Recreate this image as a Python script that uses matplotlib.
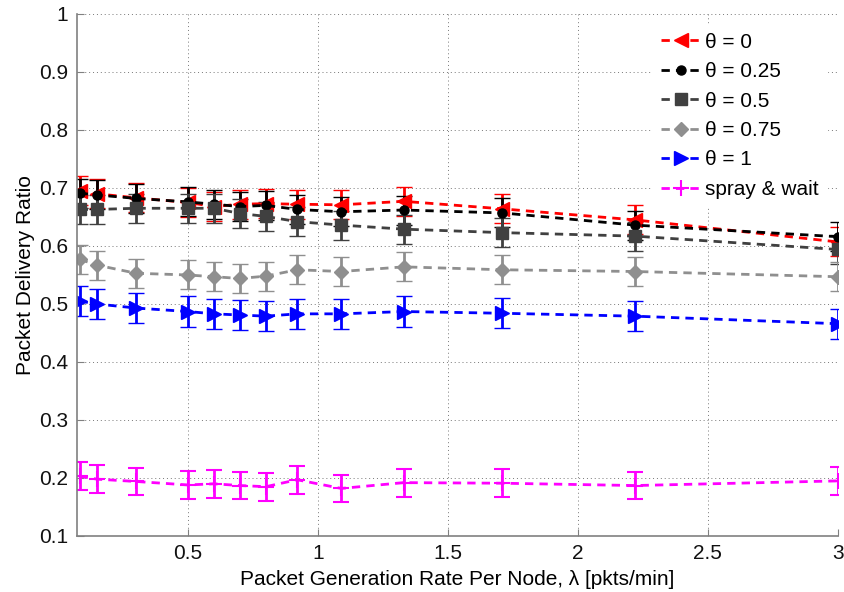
import matplotlib
matplotlib.use("Agg")
import matplotlib.pyplot as plt
from matplotlib.lines import Line2D

plt.rcParams['font.family'] = ['Liberation Sans', 'DejaVu Sans']

# Packet generation rate per node (pkts/min)
rate = [0.0833, 0.15, 0.30, 0.50, 0.60, 0.70, 0.80, 0.92, 1.09, 1.33, 1.71, 2.22, 3.00]

# Mean packet delivery ratio for each scheme
pdr_theta_0 = [0.695, 0.690, 0.683, 0.675, 0.668, 0.672, 0.673, 0.672, 0.671, 0.677, 0.664, 0.645, 0.607]
pdr_theta_025 = [0.691, 0.688, 0.682, 0.676, 0.672, 0.668, 0.670, 0.663, 0.659, 0.662, 0.657, 0.636, 0.616]
pdr_theta_05 = [0.663, 0.663, 0.665, 0.665, 0.665, 0.656, 0.651, 0.642, 0.636, 0.629, 0.623, 0.617, 0.594]
pdr_theta_075 = [0.577, 0.567, 0.553, 0.550, 0.547, 0.544, 0.548, 0.559, 0.556, 0.564, 0.559, 0.556, 0.547]
pdr_theta_1 = [0.505, 0.500, 0.493, 0.487, 0.483, 0.481, 0.479, 0.483, 0.483, 0.487, 0.484, 0.479, 0.466]
pdr_spray = [0.203, 0.198, 0.194, 0.188, 0.190, 0.187, 0.185, 0.197, 0.182, 0.192, 0.191, 0.187, 0.195]

# Half-width of the confidence intervals
err_theta_0 = [0.025] * 13
err_theta_025 = [0.025] * 13
err_theta_05 = [0.025] * 13
err_theta_075 = [0.025] * 13
err_theta_1 = [0.026] * 13
err_spray = [0.024] * 13

labels = ['θ = 0', 'θ = 0.25', 'θ = 0.5', 'θ = 0.75', 'θ = 1', 'spray & wait']

series = [
    (pdr_theta_0, err_theta_0, '#ff0000', '<', 9.5),
    (pdr_theta_025, err_theta_025, '#000000', 'o', 6.5),
    (pdr_theta_05, err_theta_05, '#404040', 's', 8),
    (pdr_theta_075, err_theta_075, '#8f8f8f', 'D', 7.5),
    (pdr_theta_1, err_theta_1, '#0000ff', '>', 10.5),
    (pdr_spray, err_spray, '#ff00ff', '+', 12),
]

dash = (0, (3, 2.2))

fig = plt.figure(figsize=(8.44, 5.92), dpi=100)
ax = fig.add_axes([0.0909, 0.0946, 0.9016, 0.8818])

handles = []
for (vals, errs, color, marker, ms), lab in zip(series, labels):
    mew = 1.5 if marker == '+' else 1
    ax.errorbar(rate, vals, yerr=errs, color=color, ecolor=color,
                linestyle=dash, linewidth=2, marker=marker,
                markersize=ms, markeredgewidth=mew,
                markeredgecolor=color, markerfacecolor=color,
                elinewidth=2, capsize=6, capthick=2)
    handles.append(Line2D([], [], color=color, linestyle=dash, linewidth=2,
                          marker=marker, markersize=ms, markeredgewidth=mew,
                          markeredgecolor=color, markerfacecolor=color, label=lab))

ax.set_xlim(0.072, 3.0)
ax.set_ylim(0.1, 1.0)
ax.set_xticks([0.5, 1, 1.5, 2, 2.5, 3])
ax.set_xticklabels(['0.5', '1', '1.5', '2', '2.5', '3'])
ax.set_yticks([0.1, 0.2, 0.3, 0.4, 0.5, 0.6, 0.7, 0.8, 0.9, 1.0])
ax.set_yticklabels(['0.1', '0.2', '0.3', '0.4', '0.5', '0.6', '0.7', '0.8', '0.9', '1'])

ax.grid(True, linestyle=(0, (1, 3)), color='#777777', linewidth=0.7)
ax.set_axisbelow(True)
for side in ('top', 'right'):
    ax.spines[side].set_visible(False)
for side in ('left', 'bottom'):
    ax.spines[side].set_color('#808080')
    ax.spines[side].set_linewidth(1.2)
ax.tick_params(direction='in', length=5, color='#808080', labelsize=15, pad=6,
               labelcolor='#111111')

ax.set_xlabel('Packet Generation Rate Per Node, λ [pkts/min]', fontsize=15, labelpad=5)
ax.set_ylabel('Packet Delivery Ratio', fontsize=15, labelpad=3)

ax.legend(handles=handles, loc='upper right', fontsize=15, frameon=True, fancybox=False,
          edgecolor='white', facecolor='white', framealpha=1,
          handlelength=2.0, handletextpad=0.15, labelspacing=0.5,
          borderaxespad=0.5)

fig.savefig('out.png', dpi=100)
